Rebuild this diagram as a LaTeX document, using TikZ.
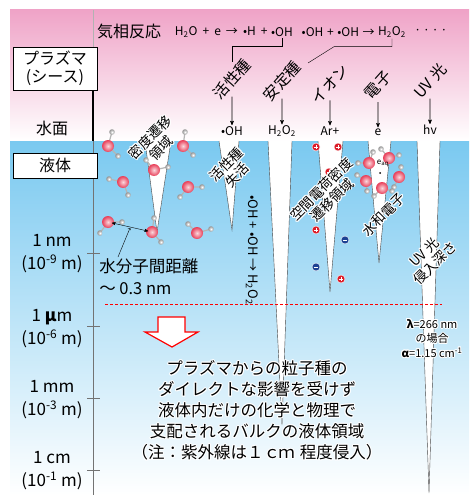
\documentclass[tikz,border=0pt]{standalone}
\usepackage{fontspec}
\setmainfont{Noto Sans CJK JP}
\usepackage{contour}
\contourlength{1pt}
\contournumber{12}
\usetikzlibrary{arrows,shapes,positioning}

\definecolor{sheath}{RGB}{239,163,199}
\definecolor{bulk}{RGB}{122,201,240}
\definecolor{oxy}{RGB}{232,62,88}
\definecolor{hyd}{RGB}{150,150,150}
\definecolor{cation}{RGB}{220,28,40}
\definecolor{anion}{RGB}{28,66,148}
\definecolor{edge}{RGB}{70,70,70}

\newcommand{\sz}[2]{\fontsize{#1}{#2}\selectfont}
\newcommand{\halo}[1]{\contour{white}{#1}}
\newcommand{\gap}[1][0.42em]{\hspace{#1}}
% water molecule: oxygen, hydrogen, hydrogen
\newcommand{\water}[3]{%
  \draw[bond] (#1) -- (#2) (#1) -- (#3);
  \shade[inner color=white, outer color=hyd] (#2) circle (2.8);
  \shade[inner color=white, outer color=hyd] (#3) circle (2.8);
  \shade[inner color=oxy!20!white, outer color=oxy] (#1) circle (6);}

\begin{document}
\begin{tikzpicture}[x=1pt,y=-1pt,>=stealth',semithick]
\tikzstyle{every node}=[inner sep=1pt]
\tikzstyle{box}=[draw, fill=white, thin, minimum width=84pt, align=center]
\tikzstyle{wedge}=[draw=edge, fill=white, thin]
\tikzstyle{bond}=[draw=hyd!70, line width=1.2pt]
\tikzstyle{spec}=[rotate=48, font=\sz{15.5}{17}]
\tikzstyle{tag}=[rotate=45, align=center, font=\sz{13.5}{15}]
\tikzstyle{axl}=[align=center, font=\sz{17}{23}]
\tikzstyle{eq}=[font=\sz{12}{14}]
\tikzstyle{surf}=[font=\sz{12}{14}]
\tikzstyle{ion}=[circle, draw=white, thin, minimum size=8pt, inner sep=0pt]
\tikzstyle{cat}=[ion, fill=cation, path picture={
    \draw[white, line width=1pt]
      ([xshift=-2.2pt]path picture bounding box.center) -- ([xshift=2.2pt]path picture bounding box.center)
      ([yshift=-2.2pt]path picture bounding box.center) -- ([yshift=2.2pt]path picture bounding box.center);}]
\tikzstyle{ani}=[ion, fill=anion, path picture={
    \draw[white, line width=1pt]
      ([xshift=-2.2pt]path picture bounding box.center) -- ([xshift=2.2pt]path picture bounding box.center);}]

\useasboundingbox (0,0) rectangle (469,495);

% plasma side and liquid side
\shade[top color=sheath, middle color=sheath!55!white, bottom color=white] (10,10) rectangle (469,141);
\shade[top color=bulk, middle color=bulk!35!white, bottom color=white] (10,141) rectangle (469,495);

% depth axis
\draw[gray!60, thin] (93,10) -- (93,91);
\draw[line width=1.5pt] (93,91) -- (93,141);
\draw[black!55, thin] (93,141) -- (93,495);
\foreach \y in {253,326,398,470}
  \draw[black!55, thin] (87,\y) -- (100,\y);

\node[box, minimum height=43pt, font=\sz{16}{18}] (plasma) at (55,68.5) {プラズマ\\(シース)};
\node[font=\sz{16}{18}] (surface) at (52,128) {水面};
\node[box, minimum height=25pt, font=\sz{16}{18}] (liquid) at (55,165.5) {液体};

\node[axl] (nm) at (52,254) {1 nm\\(10\textsuperscript{-9} m)};
\node[axl] (um) at (52,329) {1 \textbf{μ}m\\(10\textsuperscript{-6} m)};
\node[axl] (mm) at (52,400) {1 mm\\(10\textsuperscript{-3} m)};
\node[axl] (cm) at (52,471) {1 cm\\(10\textsuperscript{-1} m)};

% gas phase reactions
\node[font=\sz{16}{18}] (gas) at (129,31) {気相反応};
\node[eq] (oh) at (282,32) {•OH};
\node[eq, left=1pt of oh] (r1) {H\textsubscript{2}O\gap+\gap e\gap→\gap•H\gap+};
\node[eq] (hh) at (392,32) {H\textsubscript{2}O\textsubscript{2}};
\node[eq, left=1pt of hh] (r2) {•OH\gap[0.3em]+\gap[0.3em]•OH\gap[0.3em]→};
\node[eq, right=6pt of hh] (more) {·\,·\,·\,·};

\coordinate (k1) at (232,62);
\coordinate (k2) at (308,63);
\draw[thin] (oh.south) -- ++(0,8) -| (k1);
\draw[thin] (hh.south) -- ++(0,8) -- ++(-58,0) -- (k2);

% species reaching the surface
\node[spec] (s1) at (232,79) {活性種};
\node[spec] (s2) at (282,81) {安定種};
\node[spec] (s3) at (330,84) {イオン};
\node[spec] (s4) at (378,85) {電子};
\node[spec] (s5) at (430,81) {UV 光};

\node[surf] (p1) at (232,131) {•OH};
\node[surf] (p2) at (282,131) {H\textsubscript{2}O\textsubscript{2}};
\node[surf] (p3) at (330,131) {Ar+};
\node[surf] (p4) at (378,132) {e};
\node[surf] (p5) at (430,130) {hv};

\draw[->, shorten <=5pt] (s1) -- (p1);
\draw[->, shorten <=5pt] (s2) -- (p2);
\draw[->, shorten <=5pt] (s3) -- (p3);
\draw[->, shorten <=5pt] (s4) -- (p4);
\draw[->, shorten <=5pt] (s5) -- (p5);

% penetration wedges
\draw[wedge] (145,141) -- (157,232) -- (171,141);
\draw[wedge] (219,141) -- (232,230) -- (239,141);
\draw[wedge] (268,141) -- (282,425) -- (292,141);
\draw[wedge] (318,141) -- (330,292) -- (343,141);
\draw[wedge] (368,141) -- (379,263) -- (391,141);
\draw[wedge] (417,141) -- (429,493) -- (440,141);

% water molecules
\coordinate (w6) at (108,222);
\coordinate (w7) at (152,232);
\water{108,146}{112,132}{118,156}
\water{154,170}{146,160}{168,167}
\water{183,146}{185,132}{193,155}
\water{123,182}{109,179}{128,195}
\water{188,187}{202,187}{180,197}
\water{w6}{122,222}{100,233}
\water{w7}{154,218}{161,242}
\water{197,233}{188,224}{211,229}

\water{369,163}{358,163}{373,152}
\water{389,158}{381,149}{399,155}
\water{399,177}{401,167}{394,187}
\water{366,181}{357,175}{367,191}
\water{382,188}{374,196}{392,191}

\node[font=\sz{8}{9}] (eaq) at (383,163) {e\textsubscript{aq}};
\fill (380,173) circle (1);

% ions
\node[cat] (c1) at (316,147) {};
\node[cat] (c2) at (338,147) {};
\node[cat] (c3) at (329,172) {};
\node[cat] (c4) at (316,230) {};
\node[cat] (c5) at (341,279) {};
\node[ani] (n1) at (345,240) {};
\node[ani] (n2) at (316,267) {};

% labels inside the liquid
\node[tag] (l1) at (156,143) {\halo{密度遷移}\\\halo{領域}};
\node[tag] (l2) at (232,170) {\halo{活性種}\\\halo{失活}};
\node[rotate=-90, font=\sz{13}{14}] (l3) at (252,250) {•OH + •OH → H\textsubscript{2}O\textsubscript{2}};
\node[tag] (l4) at (327,195) {\halo{空間電荷密度}\\\halo{遷移領域}};
\node[tag] (l5) at (384,215) {\halo{水和電子}};
\node[tag] (l6) at (430,258) {\halo{UV 光}\\\halo{侵入深さ}};
\node[align=center, font=\sz{11}{14.5}] (l7) at (432,339)
  {\halo{\textbf{λ}=266 nm}\\\halo{の場合}\\\halo{\textbf{α}=1.15 cm\textsuperscript{-1}}};

% distance between molecules
\draw[<->, thin, shorten <=4pt, shorten >=4pt] (w6) -- (w7);
\node[align=left, anchor=north west, font=\sz{16.5}{22}] (dl) at (98,257)
  {水分子間距離\\～ 0.3 nm};
\coordinate (dm) at (130,228);
\draw[-to, thin] ([xshift=20pt]dl.north west) -- (dm);

% limit of direct plasma effects
\draw[red, thin, dash pattern=on 3pt off 2pt] (105,304) -- (442,304);
\draw[red, line width=1.2pt, fill=white]
  (158,317) -- (185,317) -- (185,332) -- (198,332) -- (172,347) -- (145,332) -- (158,332) -- cycle;

\node[align=center, font=\sz{16.5}{21}] (bulktext) at (257,411)
  {\halo{プラズマからの粒子種の}\\
   \halo{ダイレクトな影響を受けず}\\
   \halo{液体内だけの化学と物理で}\\
   \halo{支配されるバルクの液体領域}\\
   \halo{（注：紫外線は１ｃ\kern-0.1emｍ\hspace{0.3em}程度侵入）}};

\end{tikzpicture}
\end{document}
